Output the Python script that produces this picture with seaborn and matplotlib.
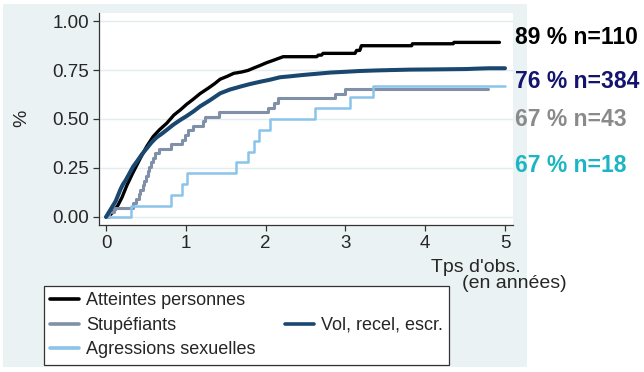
import numpy as np
import pandas as pd
import matplotlib
matplotlib.use("Agg")
import matplotlib.pyplot as plt
import seaborn as sns
from matplotlib.patches import Rectangle
from matplotlib.lines import Line2D

sns.set_style("white")
plt.rcParams['font.family'] = ['Liberation Sans', 'DejaVu Sans']

# ---- data ----
series_names = ["Atteintes personnes", "Stupéfiants", "Agressions sexuelles", "Vol, recel, escr."]

# large-n curves: many tiny steps, traced as points (plateaus given by their corners)
t_atteintes = [0, 0.05, 0.10, 0.15, 0.20, 0.26, 0.33, 0.43, 0.51, 0.59, 0.67, 0.76, 0.85, 0.93,
               1.01, 1.09, 1.18, 1.28, 1.36, 1.43, 1.52, 1.60, 1.70, 1.78, 1.85, 1.93, 2.01,
               2.10, 2.22, 2.64, 2.66, 2.70, 2.72, 3.12, 3.14, 3.18, 3.20, 3.83, 3.84,
               4.35, 4.36, 4.93]
v_atteintes = [0, 0.01, 0.03, 0.06, 0.10, 0.16, 0.22, 0.30, 0.36, 0.41, 0.445, 0.478, 0.52, 0.546,
               0.575, 0.600, 0.630, 0.657, 0.680, 0.703, 0.718, 0.733, 0.740, 0.748, 0.760, 0.773,
               0.787, 0.800, 0.818, 0.818, 0.826, 0.826, 0.835, 0.835, 0.850, 0.850, 0.874, 0.874,
               0.884, 0.884, 0.891, 0.891]

t_vol = [0, 0.03, 0.06, 0.09, 0.12, 0.15, 0.18, 0.21, 0.25, 0.29, 0.34, 0.39, 0.45, 0.51,
         0.57, 0.63, 0.70, 0.76, 0.84, 0.93, 1.01, 1.10, 1.18, 1.30, 1.43, 1.55, 1.68, 1.80,
         1.93, 2.05, 2.18, 2.31, 2.45, 2.56, 2.70, 2.81, 3.00, 3.18, 3.40, 3.60, 3.81, 4.10,
         4.52, 4.64, 4.80, 5.0]
v_vol = [0, 0.02, 0.04, 0.06, 0.08, 0.11, 0.14, 0.165, 0.19, 0.22, 0.257, 0.285, 0.32, 0.35,
         0.38, 0.405, 0.425, 0.444, 0.47, 0.495, 0.515, 0.54, 0.565, 0.595, 0.631, 0.65,
         0.665, 0.678, 0.69, 0.70, 0.713, 0.718, 0.724, 0.728, 0.733, 0.737, 0.741, 0.745,
         0.748, 0.750, 0.752, 0.753, 0.755, 0.757, 0.759, 0.759]

# small-n curves: drawn as step functions
t_stup = [0, 0.04, 0.10, 0.34, 0.38, 0.41, 0.43, 0.46, 0.48, 0.50, 0.52, 0.54, 0.56, 0.59,
          0.62, 0.67, 0.82, 0.95, 0.99, 1.03, 1.09, 1.22, 1.24, 1.41, 2.03, 2.10, 2.16,
          2.87, 3.00, 4.79]
v_stup = [0, 0.023, 0.047, 0.070, 0.093, 0.116, 0.140, 0.163, 0.186, 0.209, 0.233, 0.256,
          0.279, 0.302, 0.326, 0.349, 0.372, 0.395, 0.419, 0.442, 0.465, 0.488, 0.512, 0.535,
          0.558, 0.581, 0.605, 0.628, 0.651, 0.651]

t_agr = [0, 0.31, 0.82, 0.95, 1.01, 1.63, 1.78, 1.85, 1.92, 2.05, 2.62, 3.06, 3.34, 5.0]
v_agr = [0, 0.056, 0.111, 0.167, 0.222, 0.278, 0.333, 0.389, 0.444, 0.500, 0.556, 0.611,
         0.667, 0.667]

right_labels = ["89 % n=110", "76 % n=384", "67 % n=43", "67 % n=18"]

yticks = [0.0, 0.25, 0.50, 0.75, 1.00]
ytick_labels = ["0.00", "0.25", "0.50", "0.75", "1.00"]
xticks = [0, 1, 2, 3, 4, 5]

colors = {"Atteintes personnes": "#000000", "Stupéfiants": "#8090a8",
          "Agressions sexuelles": "#8ac4ea", "Vol, recel, escr.": "#1a476f"}
widths = {"Atteintes personnes": 2.4, "Stupéfiants": 2.2,
          "Agressions sexuelles": 1.8, "Vol, recel, escr.": 2.9}
styles = {"Atteintes personnes": "default", "Stupéfiants": "steps-post",
          "Agressions sexuelles": "steps-post", "Vol, recel, escr.": "default"}

frames = []
for name, t, v in [("Atteintes personnes", t_atteintes, v_atteintes),
                   ("Stupéfiants", t_stup, v_stup),
                   ("Agressions sexuelles", t_agr, v_agr),
                   ("Vol, recel, escr.", t_vol, v_vol)]:
    frames.append(pd.DataFrame({"t": t, "v": v, "groupe": name}))
df = pd.concat(frames, ignore_index=True)

# ---- figure ----
W, H = 644, 372
fig = plt.figure(figsize=(W / 100, H / 100), dpi=100)
fig.patch.set_facecolor("white")
bg = Rectangle((3 / W, 1 - 367 / H), 524 / W, 363 / H,
               transform=fig.transFigure, facecolor="#eaf2f3",
               edgecolor="none", zorder=-10)
fig.patches.append(bg)

ax = fig.add_axes([99 / W, 1 - 225 / H, (513 - 99) / W, (225 - 13) / H])
ax.set_zorder(1)
ax.set_facecolor("white")

for name in ["Atteintes personnes", "Stupéfiants", "Agressions sexuelles", "Vol, recel, escr."]:
    sub = df[df["groupe"] == name]
    sns.lineplot(data=sub, x="t", y="v", ax=ax, color=colors[name],
                 linewidth=widths[name], drawstyle=styles[name],
                 estimator=None, sort=False, legend=False, zorder=3)

ax.set_xlim(-0.088, 5.10)
ax.set_ylim(-0.041, 1.041)
ax.set_yticks(yticks)
ax.set_yticklabels(ytick_labels)
ax.set_xticks(xticks)
ax.grid(axis="y", color="#e3edef", linewidth=1.0, zorder=0)
ax.set_axisbelow(True)
for s in ["top", "right"]:
    ax.spines[s].set_visible(False)
for s in ["left", "bottom"]:
    ax.spines[s].set_color("#333333")
    ax.spines[s].set_linewidth(0.9)
ax.tick_params(axis="both", direction="out", length=4.5, width=0.9, color="#333333",
               labelsize=13.5, pad=2.5, left=True, bottom=True)
ax.set_xlabel("")
ax.set_ylabel("")

fig.text(22 / W, 1 - 118 / H, "%", rotation=90, ha="center", va="center", fontsize=14)
fig.text(521 / W, 1 - 268 / H, "Tps d'obs.", ha="right", va="center", fontsize=14)
fig.text(567 / W, 1 - 284 / H, "(en années)", ha="right", va="center", fontsize=14)

lab_colors = ["#000000", "#14146e", "#8a8a8a", "#1cb5c4"]
lab_ypx = [38, 82, 120, 165]
for txt, c, ypx in zip(right_labels, lab_colors, lab_ypx):
    fig.text(515 / W, 1 - ypx / H, txt, ha="left", va="center", fontsize=16.5,
             fontweight="bold", color=c)

# legend: column 1 = three entries, column 2 = Vol in the middle row
h = {n: Line2D([], [], color=colors[n], linewidth=2.6) for n in colors}
blank = Line2D([], [], color="none")
handles = [h["Atteintes personnes"], h["Stupéfiants"], h["Agressions sexuelles"],
           blank, h["Vol, recel, escr."], blank]
labels = ["Atteintes personnes", "Stupéfiants", "Agressions sexuelles", "", "Vol, recel, escr.", ""]
leg = fig.legend(handles, labels, ncol=2, loc="upper left",
                 bbox_to_anchor=(44 / W, 1 - 286 / H, (449 - 44) / W, 0.0),
                 mode="expand", bbox_transform=fig.transFigure, fontsize=13,
                 frameon=True, fancybox=False, framealpha=1.0, handlelength=1.6,
                 handletextpad=0.4, labelspacing=0.42, borderpad=0.35,
                 borderaxespad=0.0, columnspacing=1.0)
leg.get_frame().set_edgecolor("#333333")
leg.get_frame().set_linewidth(0.9)
leg.get_frame().set_facecolor("white")

fig.savefig("out.png", dpi=100, facecolor="white")
